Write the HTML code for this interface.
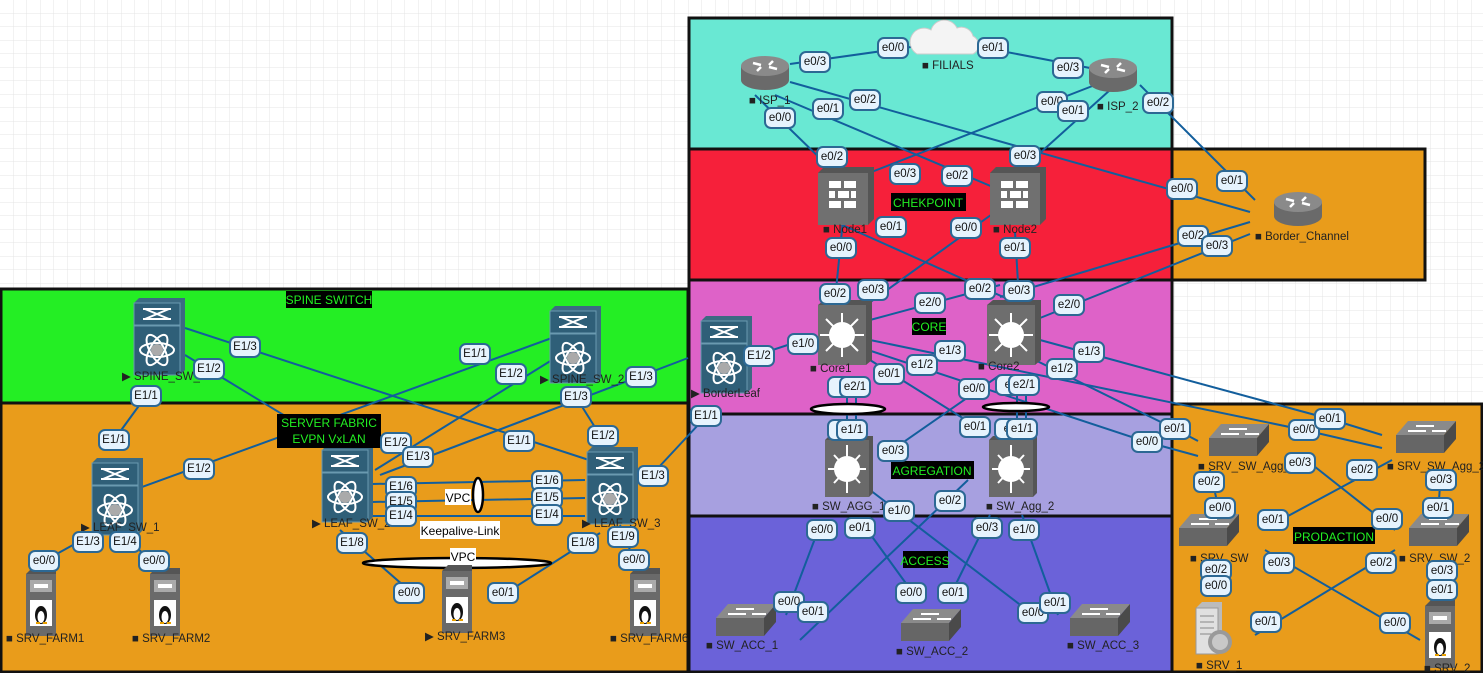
<!DOCTYPE html>
<html><head><meta charset="utf-8"><style>
html,body{margin:0;padding:0;background:#fff}
svg{display:block;font-family:"Liberation Sans",sans-serif}
.p rect{fill:#e6f3fd;stroke:#2c6894;stroke-width:2;x:-15px;y:-10px;width:30px;height:20px;rx:6px}
.p text{font-size:11.5px;fill:#111;text-anchor:middle;dominant-baseline:central}
.l line,.l polyline{stroke:#125e9c;stroke-width:2;fill:none}
.n{font-size:11.5px;fill:#222}
.t{font-size:12px;fill:#22ee22;text-anchor:middle}
</style></head><body>
<svg width="1483" height="673" viewBox="0 0 1483 673" xmlns="http://www.w3.org/2000/svg">
<defs>
<pattern id="g" width="13.5" height="13.5" patternUnits="userSpaceOnUse"><path d="M13.5 0V13.5H0" fill="none" stroke="#e4e4e4" stroke-width="1"/></pattern>
<g id="rt"><path d="M-24,-6 v14 a24,10 0 0 0 48,0 v-14z" fill="#6a6a6a"/><ellipse cx="0" cy="-6" rx="24" ry="10" fill="#8a8a8a"/><path d="M-12,-9 l8,2 M12,-3 l-8,-2 M-8,-1 l4,-4 M8,-11 l-4,4" stroke="#fff" stroke-width="2.5"/></g>
<g id="fw"><path d="M-25,-22 l6,-6 h50 v52 l-6,6z" fill="#555"/><rect x="-25" y="-22" width="50" height="52" fill="#707070"/><g fill="#fff"><rect x="-14" y="-14" width="12" height="7"/><rect x="1" y="-14" width="12" height="7"/><rect x="-14" y="-4" width="6" height="7"/><rect x="-5" y="-4" width="11" height="7"/><rect x="8" y="-4" width="5" height="7"/><rect x="-14" y="6" width="12" height="7"/><rect x="1" y="6" width="12" height="7"/></g></g>
<g id="nx"><path d="M-23,-34 l5,-5 h46 v72 l-5,5z" fill="#3c6a82"/><rect x="-23" y="-34" width="46" height="22" fill="#2f5f78" stroke="#6a9ab0"/><rect x="-23" y="-11" width="46" height="49" fill="#2f5f78" stroke="#6a9ab0"/><path d="M-14,-28 h28 M-14,-18 h28 M-12,-28 l24,10 M12,-28 l-24,10" stroke="#fff" stroke-width="2"/><g stroke="#fff" stroke-width="2" fill="none"><ellipse cx="0" cy="13" rx="17" ry="7"/><ellipse cx="0" cy="13" rx="17" ry="7" transform="rotate(60 0 13)"/><ellipse cx="0" cy="13" rx="17" ry="7" transform="rotate(-60 0 13)"/></g><circle cx="0" cy="13" r="6" fill="#aaa"/></g>
<g id="cs"><path d="M-25,-28 l6,-5 h48 v60 l-6,5z" fill="#555"/><rect x="-25" y="-28" width="48" height="60" fill="#6e6e6e"/><circle cx="-1" cy="2" r="13" fill="#fff"/><g stroke="#fff" stroke-width="2"><path d="M-1,-20v44M-23,2h44M-17,-14l32,32M15,-14l-32,32"/></g></g>
<g id="ag"><path d="M-23,-27 l4,-4 h44 v57 l-4,4z" fill="#555"/><rect x="-23" y="-27" width="44" height="57" fill="#6a6a6a"/><circle cx="-1" cy="2" r="13" fill="#fff"/><path d="M-1,-22v48M-20,2h38M-14,-12l26,28M12,-12l-26,28" stroke="#fff" stroke-width="2"/></g>
<g id="as"><path d="M-36,-2 l12,-14 h48 l-12,14z" fill="#8a8a8a"/><path d="M24,-16 v18 l-12,14 v-18z" fill="#4a4a4a"/><rect x="-36" y="-2" width="48" height="18" fill="#666"/><path d="M-16,-11h18M-6,-6h-18M0,-6h14" stroke="#fff" stroke-width="2"/></g>
<g id="sv"><path d="M-16,-26 l6,-6 h24 v56 l-6,6z" fill="#555"/><rect x="-16" y="-26" width="30" height="62" fill="#6a6a6a"/><rect x="-12" y="-20" width="22" height="12" fill="#aaa"/><rect x="-8" y="-16" width="14" height="4" fill="#fff"/><rect x="-12" y="0" width="22" height="26" fill="#fff"/><ellipse cx="-1" cy="15" rx="6" ry="9" fill="#111"/><ellipse cx="-1" cy="17" rx="3.5" ry="6" fill="#fff"/><path d="M-6,23h4M1,23h4" stroke="#e8a000" stroke-width="2"/></g>
</defs>
<rect width="1483" height="673" fill="url(#g)"/>
<g stroke="#111" stroke-width="3">
<rect x="689" y="18" width="483" height="131" fill="#69e8d3"/>
<rect x="689" y="149" width="483" height="131" fill="#f6203a"/>
<rect x="1172" y="149" width="253" height="131" fill="#e99c1b"/>
<rect x="689" y="280" width="483" height="134" fill="#de62c8"/>
<rect x="1" y="289" width="687" height="114" fill="#24ee24"/>
<rect x="1" y="403" width="687" height="269" fill="#e99c1b"/>
<rect x="689" y="414" width="483" height="102" fill="#a7a0e0"/>
<rect x="689" y="516" width="483" height="156" fill="#6b62d9"/>
<rect x="1172" y="404" width="310" height="268" fill="#e99c1b"/>
</g>
<g class="l">
<line x1="790" y1="64" x2="918" y2="46"/><line x1="970" y1="45" x2="1090" y2="68"/>
<line x1="790" y1="82" x2="1250" y2="212"/><line x1="775" y1="95" x2="1000" y2="190"/>
<line x1="755" y1="95" x2="830" y2="168"/><line x1="1095" y1="85" x2="820" y2="192"/>
<line x1="1110" y1="90" x2="1030" y2="162"/><line x1="1140" y1="85" x2="1255" y2="200"/>
<line x1="843" y1="220" x2="835" y2="300"/><line x1="820" y1="215" x2="1010" y2="300"/>
<line x1="995" y1="212" x2="865" y2="306"/><line x1="1015" y1="232" x2="1019" y2="300"/>
<line x1="1250" y1="222" x2="1000" y2="297"/><line x1="1250" y1="234" x2="1035" y2="320"/>
<line x1="870" y1="320" x2="1000" y2="285"/>
<line x1="742" y1="360" x2="815" y2="336"/>
<polyline points="870,340 1304,430 1382,448"/><polyline points="1040,340 1330,419 1382,435"/>
<polyline points="868,350 1147,442 1198,456"/><polyline points="1035,360 1175,429 1198,441"/>
<line x1="870" y1="360" x2="985" y2="432"/><line x1="1000" y1="375" x2="885" y2="455"/>
<line x1="847" y1="378" x2="847" y2="430"/><line x1="856" y1="378" x2="856" y2="430"/>
<line x1="1017" y1="378" x2="1017" y2="430"/><line x1="1026" y1="378" x2="1026" y2="430"/>
<line x1="712" y1="410" x2="645" y2="482"/>
<line x1="688" y1="358" x2="380" y2="475"/><line x1="576" y1="397" x2="608" y2="448"/>
<line x1="560" y1="335" x2="120" y2="495"/><line x1="560" y1="355" x2="375" y2="470"/>
<line x1="185" y1="328" x2="595" y2="462"/><line x1="185" y1="355" x2="300" y2="425"/>
<line x1="146" y1="396" x2="114" y2="440"/>
<line x1="100" y1="530" x2="44" y2="561"/><line x1="112" y1="530" x2="154" y2="561"/>
<line x1="372" y1="484" x2="585" y2="480"/><line x1="372" y1="502" x2="585" y2="498"/><line x1="372" y1="516" x2="585" y2="516"/>
<line x1="340" y1="530" x2="420" y2="600"/><line x1="600" y1="533" x2="495" y2="600"/>
<line x1="620" y1="525" x2="634" y2="560"/>
<line x1="870" y1="490" x2="1040" y2="620"/><line x1="822" y1="520" x2="786" y2="615"/>
<line x1="860" y1="520" x2="918" y2="600"/><line x1="968" y1="480" x2="800" y2="640"/>
<line x1="990" y1="515" x2="948" y2="600"/><line x1="1022" y1="515" x2="1058" y2="615"/>
<line x1="1210" y1="470" x2="1220" y2="515"/><line x1="1300" y1="455" x2="1395" y2="530"/>
<line x1="1392" y1="460" x2="1262" y2="530"/><line x1="1441" y1="470" x2="1438" y2="515"/>
<line x1="1216" y1="560" x2="1216" y2="595"/><line x1="1265" y1="550" x2="1420" y2="640"/>
<line x1="1395" y1="550" x2="1255" y2="635"/><line x1="1442" y1="560" x2="1442" y2="600"/>
</g>
<g fill="#fff" stroke="#000" stroke-width="2.5">
<ellipse cx="848" cy="409" rx="37" ry="5"/><ellipse cx="1016" cy="407" rx="33" ry="4"/>
<ellipse cx="478" cy="495" rx="5" ry="17"/><ellipse cx="457" cy="563" rx="94" ry="5"/>
</g>
<use href="#rt" x="765" y="72"/><use href="#rt" x="1113" y="74"/><use href="#rt" x="1298" y="208"/>
<g transform="translate(945,42)"><path d="M-28,12 h56 a10,10 0 0 0 0,-18 a12,12 0 0 0 -16,-8 a14,14 0 0 0 -26,2 a10,10 0 0 0 -14,24z" fill="#f4f4f4" stroke="#ccc"/></g>
<use href="#fw" x="843" y="195"/><use href="#fw" x="1015" y="195"/>
<use href="#cs" x="843" y="333"/><use href="#cs" x="1012" y="333"/>
<use href="#nx" x="724" y="355"/><use href="#nx" x="157" y="337"/><use href="#nx" x="573" y="345"/>
<use href="#nx" x="115" y="497"/><use href="#nx" x="345" y="484"/><use href="#nx" x="610" y="486"/>
<use href="#ag" x="848" y="467"/><use href="#ag" x="1012" y="467"/>
<use href="#as" x="752" y="620"/><use href="#as" x="937" y="625"/><use href="#as" x="1106" y="620"/>
<use href="#as" x="1245" y="440"/><use href="#as" x="1432" y="437"/><use href="#as" x="1215" y="530"/><use href="#as" x="1445" y="530"/>
<use href="#sv" x="42" y="600"/><use href="#sv" x="166" y="600"/><use href="#sv" x="458" y="597"/><use href="#sv" x="646" y="600"/><use href="#sv" x="1441" y="632"/>
<g transform="translate(1210,630)"><path d="M-14,-22 l6,-6 h20 v46 l-6,6z" fill="#bbb"/><rect x="-14" y="-22" width="22" height="46" fill="#e0e0e0" stroke="#999"/><path d="M-10,-14h14M-10,-8h14M-10,-2h14M-10,4h14" stroke="#888"/><circle cx="10" cy="12" r="12" fill="#9a9a9a"/><circle cx="10" cy="12" r="8" fill="#c8c8c8"/></g>
<g class="n">
<text x="749" y="104">■ ISP_1</text><text x="922" y="69">■ FILIALS</text><text x="1097" y="110">■ ISP_2</text>
<text x="1255" y="240">■ Border_Channel</text><text x="823" y="233">■ Node1</text><text x="993" y="233">■ Node2</text>
<text x="810" y="372">■ Core1</text><text x="978" y="370">■ Core2</text><text x="691" y="397">▶ BorderLeaf</text>
<text x="812" y="510">■ SW_AGG_1</text><text x="986" y="510">■ SW_Agg_2</text>
<text x="706" y="649">■ SW_ACC_1</text><text x="896" y="655">■ SW_ACC_2</text><text x="1067" y="649">■ SW_ACC_3</text>
<text x="1198" y="470">■ SRV_SW_Agg_1</text><text x="1387" y="470">■ SRV_SW_Agg_2</text>
<text x="1190" y="562">■ SRV_SW</text><text x="1399" y="562">■ SRV_SW_2</text>
<text x="1196" y="669">■ SRV_1</text><text x="1424" y="672">■ SRV_2</text>
<text x="122" y="380">▶ SPINE_SW_1</text><text x="540" y="383">▶ SPINE_SW_2</text>
<text x="81" y="531">▶ LEAF_SW_1</text><text x="312" y="527">▶ LEAF_SW_2</text><text x="582" y="527">▶ LEAF_SW_3</text>
<text x="6" y="642">■ SRV_FARM1</text><text x="132" y="642">■ SRV_FARM2</text><text x="425" y="640">▶ SRV_FARM3</text><text x="610" y="642">■ SRV_FARM6</text>
</g>
<rect x="286" y="291" width="86" height="17" fill="#000"/><text class="t" x="329" y="304">SPINE SWITCH</text>
<rect x="277" y="414" width="104" height="34" fill="#000"/><text class="t" x="329" y="427">SERVER FABRIC</text><text class="t" x="329" y="443">EVPN VxLAN</text>
<rect x="891" y="193" width="75" height="18" fill="#000"/><text class="t" x="928" y="207">CHEKPOINT</text>
<rect x="912" y="318" width="34" height="17" fill="#000"/><text class="t" x="929" y="331">CORE</text>
<rect x="891" y="461" width="83" height="18" fill="#000"/><text class="t" x="932" y="475">AGREGATION</text>
<rect x="903" y="551" width="45" height="17" fill="#000"/><text class="t" x="925" y="565">ACCESS</text>
<rect x="1293" y="527" width="82" height="17" fill="#000"/><text class="t" x="1334" y="541">PRODACTION</text>
<rect x="445" y="489" width="26" height="16" fill="#fff"/><text x="458" y="502" font-size="12" text-anchor="middle">VPC</text>
<rect x="420" y="521" width="80" height="18" fill="#fff"/><text x="460" y="535" font-size="12" text-anchor="middle">Keepalive-Link</text>
<rect x="450" y="548" width="26" height="16" fill="#fff"/><text x="463" y="561" font-size="12" text-anchor="middle">VPC</text>
<g class="p">
<g transform="translate(815,62)"><rect/><text>e0/3</text></g>
<g transform="translate(893,48)"><rect/><text>e0/0</text></g>
<g transform="translate(993,48)"><rect/><text>e0/1</text></g>
<g transform="translate(1068,68)"><rect/><text>e0/3</text></g>
<g transform="translate(865,100)"><rect/><text>e0/2</text></g>
<g transform="translate(828,109)"><rect/><text>e0/1</text></g>
<g transform="translate(780,118)"><rect/><text>e0/0</text></g>
<g transform="translate(1052,102)"><rect/><text>e0/0</text></g>
<g transform="translate(1073,111)"><rect/><text>e0/1</text></g>
<g transform="translate(1158,103)"><rect/><text>e0/2</text></g>
<g transform="translate(832,157)"><rect/><text>e0/2</text></g>
<g transform="translate(1025,156)"><rect/><text>e0/3</text></g>
<g transform="translate(905,174)"><rect/><text>e0/3</text></g>
<g transform="translate(957,176)"><rect/><text>e0/2</text></g>
<g transform="translate(1232,181)"><rect/><text>e0/1</text></g>
<g transform="translate(1182,189)"><rect/><text>e0/0</text></g>
<g transform="translate(891,227)"><rect/><text>e0/1</text></g>
<g transform="translate(966,228)"><rect/><text>e0/0</text></g>
<g transform="translate(841,248)"><rect/><text>e0/0</text></g>
<g transform="translate(1015,248)"><rect/><text>e0/1</text></g>
<g transform="translate(1193,236)"><rect/><text>e0/2</text></g>
<g transform="translate(1217,246)"><rect/><text>e0/3</text></g>
<g transform="translate(835,294)"><rect/><text>e0/2</text></g>
<g transform="translate(873,290)"><rect/><text>e0/3</text></g>
<g transform="translate(980,289)"><rect/><text>e0/2</text></g>
<g transform="translate(1019,291)"><rect/><text>e0/3</text></g>
<g transform="translate(930,303)"><rect/><text>e2/0</text></g>
<g transform="translate(1069,305)"><rect/><text>e2/0</text></g>
<g transform="translate(759,356)"><rect/><text>E1/2</text></g>
<g transform="translate(803,344)"><rect/><text>e1/0</text></g>
<g transform="translate(950,351)"><rect/><text>e1/3</text></g>
<g transform="translate(1089,352)"><rect/><text>e1/3</text></g>
<g transform="translate(922,365)"><rect/><text>e1/2</text></g>
<g transform="translate(1062,369)"><rect/><text>e1/2</text></g>
<g transform="translate(889,374)"><rect/><text>e0/1</text></g>
<g transform="translate(974,389)"><rect/><text>e0/0</text></g>
<g transform="translate(843,387)"><rect/><text>e</text></g>
<g transform="translate(855,387)"><rect/><text>e2/1</text></g>
<g transform="translate(1011,385)"><rect/><text>e0</text></g>
<g transform="translate(1024,385)"><rect/><text>e2/1</text></g>
<g transform="translate(706,416)"><rect/><text>E1/1</text></g>
<g transform="translate(843,430)"><rect/><text>e</text></g>
<g transform="translate(852,430)"><rect/><text>e1/1</text></g>
<g transform="translate(975,427)"><rect/><text>e0/1</text></g>
<g transform="translate(1010,429)"><rect/><text>e0</text></g>
<g transform="translate(1022,429)"><rect/><text>e1/1</text></g>
<g transform="translate(893,451)"><rect/><text>e0/3</text></g>
<g transform="translate(1147,442)"><rect/><text>e0/0</text></g>
<g transform="translate(1175,429)"><rect/><text>e0/1</text></g>
<g transform="translate(1304,430)"><rect/><text>e0/0</text></g>
<g transform="translate(1330,419)"><rect/><text>e0/1</text></g>
<g transform="translate(950,501)"><rect/><text>e0/2</text></g>
<g transform="translate(899,511)"><rect/><text>e1/0</text></g>
<g transform="translate(822,530)"><rect/><text>e0/0</text></g>
<g transform="translate(860,528)"><rect/><text>e0/1</text></g>
<g transform="translate(987,528)"><rect/><text>e0/3</text></g>
<g transform="translate(1024,530)"><rect/><text>e1/0</text></g>
<g transform="translate(789,602)"><rect/><text>e0/0</text></g>
<g transform="translate(813,612)"><rect/><text>e0/1</text></g>
<g transform="translate(911,593)"><rect/><text>e0/0</text></g>
<g transform="translate(953,593)"><rect/><text>e0/1</text></g>
<g transform="translate(1033,613)"><rect/><text>e0/0</text></g>
<g transform="translate(1055,603)"><rect/><text>e0/1</text></g>
<g transform="translate(1209,482)"><rect/><text>e0/2</text></g>
<g transform="translate(1300,463)"><rect/><text>e0/3</text></g>
<g transform="translate(1362,470)"><rect/><text>e0/2</text></g>
<g transform="translate(1441,480)"><rect/><text>e0/3</text></g>
<g transform="translate(1220,508)"><rect/><text>e0/0</text></g>
<g transform="translate(1273,520)"><rect/><text>e0/1</text></g>
<g transform="translate(1387,519)"><rect/><text>e0/0</text></g>
<g transform="translate(1438,508)"><rect/><text>e0/1</text></g>
<g transform="translate(1279,563)"><rect/><text>e0/3</text></g>
<g transform="translate(1381,563)"><rect/><text>e0/2</text></g>
<g transform="translate(1216,570)"><rect/><text>e0/2</text></g>
<g transform="translate(1442,571)"><rect/><text>e0/3</text></g>
<g transform="translate(1216,586)"><rect/><text>e0/0</text></g>
<g transform="translate(1442,590)"><rect/><text>e0/1</text></g>
<g transform="translate(1266,622)"><rect/><text>e0/1</text></g>
<g transform="translate(1395,623)"><rect/><text>e0/0</text></g>
<g transform="translate(245,347)"><rect/><text>E1/3</text></g>
<g transform="translate(209,369)"><rect/><text>E1/2</text></g>
<g transform="translate(146,396)"><rect/><text>E1/1</text></g>
<g transform="translate(475,354)"><rect/><text>E1/1</text></g>
<g transform="translate(511,374)"><rect/><text>E1/2</text></g>
<g transform="translate(641,377)"><rect/><text>E1/3</text></g>
<g transform="translate(576,397)"><rect/><text>E1/3</text></g>
<g transform="translate(114,440)"><rect/><text>E1/1</text></g>
<g transform="translate(199,469)"><rect/><text>E1/2</text></g>
<g transform="translate(396,443)"><rect/><text>E1/2</text></g>
<g transform="translate(418,457)"><rect/><text>E1/3</text></g>
<g transform="translate(519,441)"><rect/><text>E1/1</text></g>
<g transform="translate(603,436)"><rect/><text>E1/2</text></g>
<g transform="translate(653,476)"><rect/><text>E1/3</text></g>
<g transform="translate(401,487)"><rect/><text>E1/6</text></g>
<g transform="translate(401,502)"><rect/><text>E1/5</text></g>
<g transform="translate(401,516)"><rect/><text>E1/4</text></g>
<g transform="translate(547,481)"><rect/><text>E1/6</text></g>
<g transform="translate(547,498)"><rect/><text>E1/5</text></g>
<g transform="translate(547,515)"><rect/><text>E1/4</text></g>
<g transform="translate(88,542)"><rect/><text>E1/3</text></g>
<g transform="translate(125,542)"><rect/><text>E1/4</text></g>
<g transform="translate(352,543)"><rect/><text>E1/8</text></g>
<g transform="translate(583,543)"><rect/><text>E1/8</text></g>
<g transform="translate(623,537)"><rect/><text>E1/9</text></g>
<g transform="translate(44,561)"><rect/><text>e0/0</text></g>
<g transform="translate(154,561)"><rect/><text>e0/0</text></g>
<g transform="translate(634,560)"><rect/><text>e0/0</text></g>
<g transform="translate(409,593)"><rect/><text>e0/0</text></g>
<g transform="translate(503,593)"><rect/><text>e0/1</text></g>
</g>
</svg>
</body></html>
